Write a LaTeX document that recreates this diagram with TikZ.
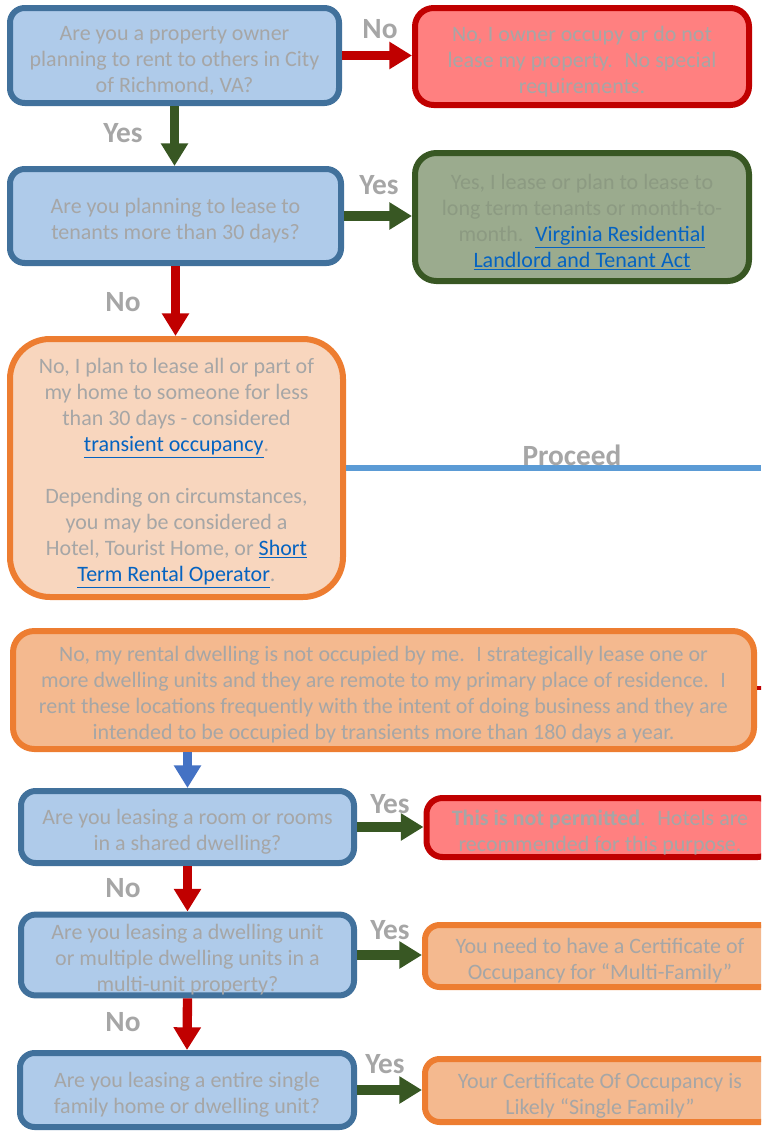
\documentclass[tikz,border=0pt]{standalone}
\usepackage{fontspec}
\setmainfont{Carlito}
\usetikzlibrary{arrows.meta}

\definecolor{qfill}{RGB}{175,203,234}
\definecolor{qline}{RGB}{65,113,156}
\definecolor{nofill}{RGB}{255,128,128}
\definecolor{noline}{RGB}{192,0,0}
\definecolor{yesfill}{RGB}{155,171,142}
\definecolor{yesline}{RGB}{56,87,35}
\definecolor{palefill}{RGB}{248,214,190}
\definecolor{peachfill}{RGB}{244,185,143}
\definecolor{orline}{RGB}{237,125,49}
\definecolor{txtgrey}{RGB}{166,166,166}
\definecolor{yestxt}{RGB}{140,154,130}
\definecolor{linkblue}{RGB}{5,99,193}
\definecolor{proceedblue}{RGB}{91,155,213}
\definecolor{downblue}{RGB}{68,114,196}

\newcommand{\weblink}[1]{\textcolor{linkblue}{\underline{#1}}}
\newcommand{\lift}{\rule{0pt}{19pt}}

\begin{document}
\begin{tikzpicture}[x=0.75pt, y=-0.75pt,
    box/.style={draw, line width=4.5pt, align=center, inner sep=0pt, text=txtgrey,
      font=\fontsize{16.5pt}{19.5pt}\selectfont},
    qbox/.style={box, draw=qline, fill=qfill, rounded corners=11pt},
    nobox/.style={box, draw=noline, fill=nofill, rounded corners=14pt},
    yesbox/.style={box, draw=yesline, fill=yesfill, text=yestxt, rounded corners=16pt},
    orbox/.style={box, draw=orline, fill=#1, rounded corners=14pt},
    ans/.style={font=\bfseries\fontsize{22pt}{24pt}\selectfont, text=txtgrey, inner sep=0pt},
    go/.style={-{Triangle[width=19.5pt,length=17pt]}, line width=7pt, draw=#1},
  ]
  \useasboundingbox (0,0) rectangle (761,1135);
  \clip (0,0) rectangle (761,1135);

  %% First questions
  \node[qbox, minimum width=246.75pt, minimum height=71.25pt] (owner) at (174.5,55.5)
    {\lift Are you a property owner\\planning to rent to others in City\\of Richmond, VA?};
  \node[nobox, minimum width=250.5pt, minimum height=72.75pt] (noneed) at (582,56.5)
    {\lift No, I owner occupy or do not\\lease my property.~ No special\\requirements.};
  \node[qbox, minimum width=248.25pt, minimum height=70.5pt] (long) at (175.5,216)
    {\lift Are you planning to lease to\\tenants more than 30 days?};
  \node[yesbox, minimum width=250.5pt, minimum height=96pt] (landlord) at (582,217)
    {\lift Yes, I lease or plan to lease to\\long term tenants or month-to-\\month.~ \weblink{Virginia Residential}\\\weblink{Landlord and Tenant Act}};
  \node[orbox=palefill, rounded corners=30pt, minimum width=249.75pt, minimum height=193.5pt] (transient) at (176.5,468)
    {\lift No, I plan to lease all or part of\\my home to someone for less\\than 30 days - considered\\\weblink{transient occupancy}.\\[19.5pt]Depending on circumstances,\\you may be considered a\\Hotel, Tourist Home, or \weblink{Short}\\\weblink{Term Rental Operator}.};
  \coordinate (proceedend) at (761,468);

  %% Remote operator
  \node[orbox=peachfill, rounded corners=16pt, minimum width=555.75pt, minimum height=88.5pt] (remote) at (383.5,690)
    {\lift No, my rental dwelling is not occupied by me.~ I strategically lease one or\\more dwelling units and they are remote to my primary place of residence.~ I\\rent these locations frequently with the intent of doing business and they are\\intended to be occupied by transients more than 180 days a year.};
  \coordinate (remoteend) at (790,688);

  %% Last questions
  \node[qbox, minimum width=249.75pt, minimum height=54pt] (room) at (187.5,827)
    {\lift Are you leasing a room or rooms\\in a shared dwelling?};
  \node[nobox, rounded corners=12pt, minimum width=260.25pt, minimum height=44.25pt] (notallowed) at (600,827.5)
    {\lift\textbf{This is not permitted}.~ Hotels are\\recommended for this purpose.};
  \node[qbox, minimum width=249.75pt, minimum height=55.5pt] (multi) at (187.5,955)
    {\lift Are you leasing a dwelling unit\\or multiple dwelling units in a\\multi-unit property?};
  \node[orbox=peachfill, rounded corners=11pt, minimum width=262.5pt, minimum height=46.5pt] (mfcert) at (600,956)
    {\lift You need to have a Certificate of\\Occupancy for “Multi-Family”};
  \node[qbox, minimum width=250.5pt, minimum height=55.5pt] (single) at (187,1090)
    {\lift Are you leasing a entire single\\family home or dwelling unit?};
  \node[orbox=peachfill, rounded corners=11pt, minimum width=262.5pt, minimum height=47.25pt] (sfcert) at (600,1090.5)
    {\lift Your Certificate Of Occupancy is\\Likely “Single Family”};

  %% Arrows
  \draw[go=noline] (owner.east) -- (owner.east -| noneed.west);
  \draw[go=yesline] (owner.south) -- (owner.south |- long.north);
  \draw[go=yesline] (long.east) -- (long.east -| landlord.west);
  \draw[go=noline] (long.south) -- (long.south |- transient.north);
  \draw[proceedblue, line width=4.5pt] (transient.east) -- (proceedend);
  \draw[noline, line width=3pt] (remoteend) -- (remote.east |- remoteend);
  \draw[go=downblue] (remote.south -| room.north) -- (room.north);
  \draw[go=yesline] (room.east) -- (room.east -| notallowed.west);
  \draw[go=noline] (room.south) -- (multi.north);
  \draw[go=yesline] (multi.east) -- (multi.east -| mfcert.west);
  \draw[go=noline] (multi.south) -- (single.north);
  \draw[go=yesline] (single.east) -- (single.east -| sfcert.west);

  %% Labels
  \node[ans] at (380,29) {No};
  \node[ans] at (123,133) {Yes};
  \node[ans] at (379,185) {Yes};
  \node[ans] at (123,302) {No};
  \node[ans] at (572,455) {Proceed};
  \node[ans] at (390,804) {Yes};
  \node[ans] at (123,888) {No};
  \node[ans] at (390,930) {Yes};
  \node[ans] at (123,1022) {No};
  \node[ans] at (385,1064) {Yes};
\end{tikzpicture}
\end{document}
